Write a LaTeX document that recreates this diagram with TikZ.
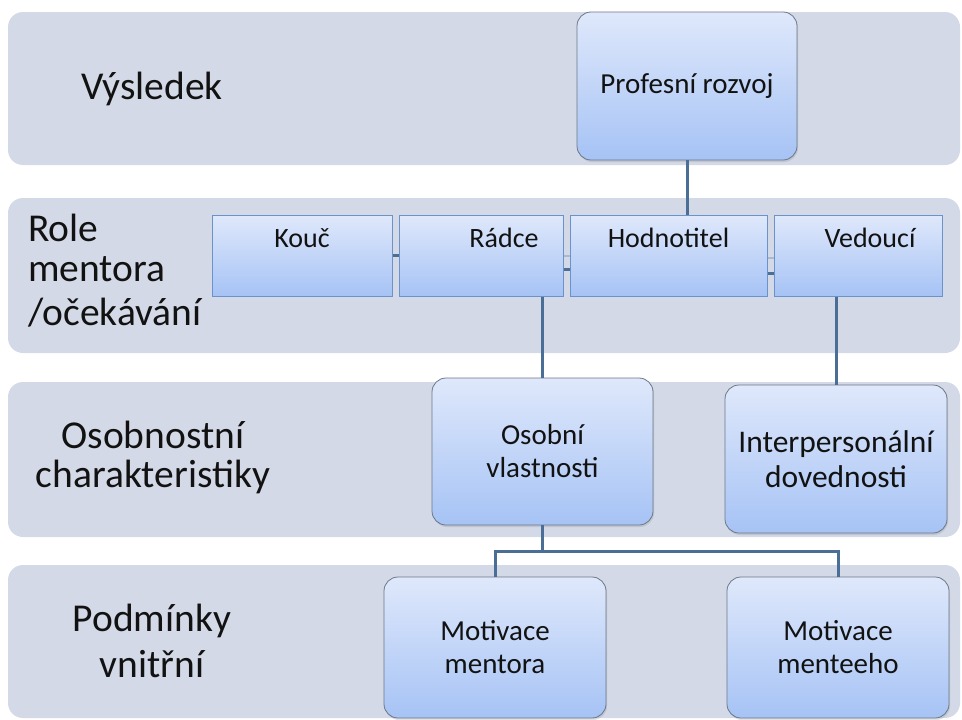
\documentclass[tikz,border=0pt]{standalone}
\usepackage{fontspec}
\setmainfont{Carlito}
\usetikzlibrary{shadows}
\definecolor{bandfill}{HTML}{D3D9E6}
\definecolor{boxtop}{HTML}{DFE8FB}
\definecolor{boxbot}{HTML}{A6C3F5}
\definecolor{boxline}{HTML}{6B7888}
\definecolor{roleline}{HTML}{6C93C9}
\definecolor{linkcol}{HTML}{4A6E96}
\definecolor{linklight}{HTML}{A9B9CF}
\definecolor{inkcol}{HTML}{121212}

\begin{document}
\begin{tikzpicture}[x=1pt,y=-1pt,
  band/.style={fill=bandfill, rounded corners=15pt},
  levelbox/.style={draw=boxline, line width=0.8pt, rounded corners=14pt,
    top color=boxtop, bottom color=boxbot, inner sep=0pt, align=center,
    text=inkcol, font=\fontsize{29}{33}\selectfont,
    drop shadow={opacity=0.22, shadow xshift=1pt, shadow yshift=-2pt}},
  rolebox/.style={draw=roleline, line width=1pt, top color=boxtop,
    bottom color=boxbot, minimum height=81pt, inner sep=0pt,
    text height=32pt, text depth=49pt, text=inkcol,
    font=\fontsize{28}{32}\selectfont},
  rowlabel/.style={text=inkcol, inner sep=0pt, align=center},
  link/.style={draw=linkcol, line width=3pt},
  thinlink/.style={draw=linklight, line width=2pt},
]
\useasboundingbox (0,0) rectangle (962,720);

% horizontal level bands
\fill[band] (8,12) rectangle (960,165);
\fill[band] (8,198) rectangle (960,353);
\fill[band] (8,382) rectangle (960,537);
\fill[band] (8,565) rectangle (960,718);

% boxes
\node[levelbox, minimum width=220pt, minimum height=148pt] (prof) at (687,86) {Profesní rozvoj};

\node[rolebox, minimum width=180pt] (kouc) at (302,255.5) {Kouč};
\node[rolebox, minimum width=164pt] (radce) at (481,255.5) {\hspace*{46pt}Rádce};
\node[rolebox, minimum width=197pt] (hodn) at (668.5,255.5) {Hodnotitel};
\node[rolebox, minimum width=168pt] (ved) at (858,255.5) {\hspace*{24pt}Vedoucí};

\node[levelbox, minimum width=221pt, minimum height=147pt] (osob) at (542.5,451.5) {Osobní\\vlastnosti};
\node[levelbox, minimum width=222pt, minimum height=148pt,
      font=\fontsize{31.5}{35}\selectfont] (inter) at (836,459) {Interpersonální\\dovednosti};

\node[levelbox, minimum width=222pt, minimum height=141pt] (mota) at (495,647.5) {Motivace\\mentora};
\node[levelbox, minimum width=222pt, minimum height=141pt] (motb) at (838,647.5) {Motivace\\menteeho};

% connectors
\draw[link] (prof.south) -- (prof.south |- hodn.north);
\draw[link] (kouc.east) -- (radce.west);
\draw[thinlink] (radce.east) -- (hodn.west);
\draw[link] ([yshift=-14pt]radce.east) -- ([yshift=-14pt]hodn.west);
\draw[thinlink] ([yshift=-2pt]hodn.east) -- ([yshift=-2pt]ved.west);
\draw[link] ([yshift=-18pt]hodn.east) -- ([yshift=-18pt]ved.west);
\draw[link] (osob.north |- radce.south) -- (osob.north);
\draw[link] (inter.north |- ved.south) -- (inter.north);
\draw[link] (osob.south) -- ++(0,26) coordinate (fork) -| (mota.north);
\draw[link] (fork) -| (motb.north);

% level labels
\node[rowlabel, anchor=base, font=\fontsize{39.5}{42}\selectfont] (lab1) at (152,99) {Výsledek};
\node[rowlabel, align=left, anchor=north west, font=\fontsize{39.5}{40}\selectfont] (lab2) at (28,214) {Role\\mentora\\[4pt]/očekávání};
\node[rowlabel, font=\fontsize{39.5}{39}\selectfont] (lab3) at (153,457) {Osobnostní\\charakteristiky};
\node[rowlabel, font=\fontsize{39.5}{46}\selectfont] (lab4) at (152,641) {Podmínky\\vnitřní};
\end{tikzpicture}
\end{document}
